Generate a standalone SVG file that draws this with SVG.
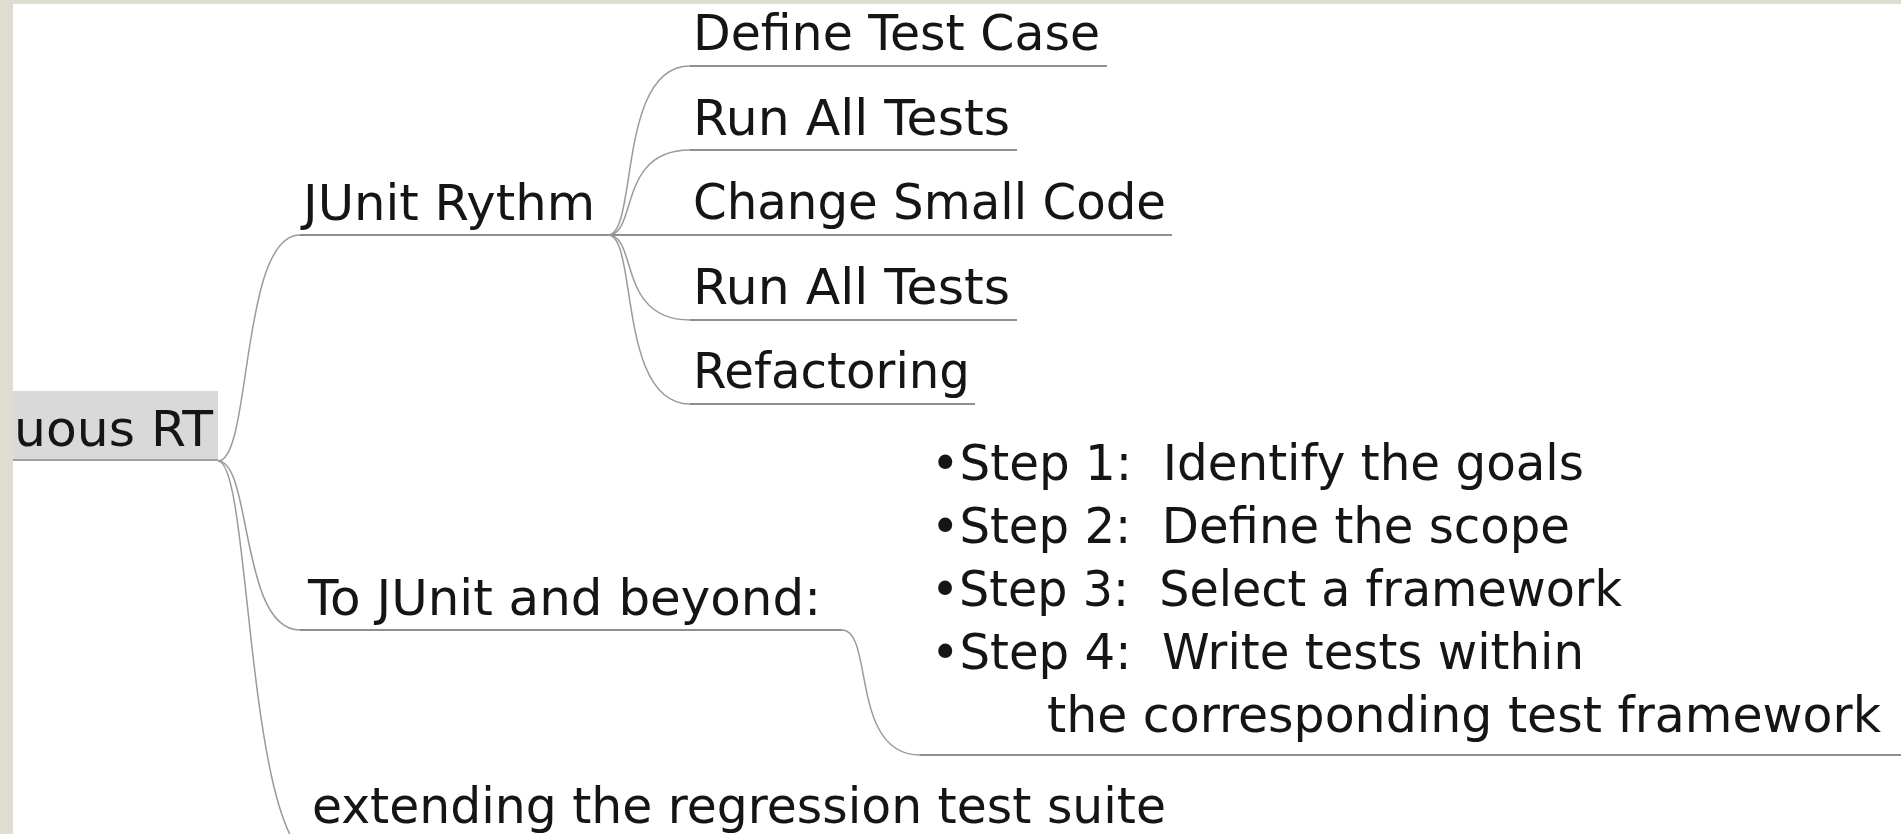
<svg xmlns="http://www.w3.org/2000/svg" width="1901" height="834" viewBox="0 0 1901 834">
<style>
.t{font-family:"DejaVu Sans","Liberation Sans",sans-serif;font-size:49px;fill:#151515;white-space:pre}
.c{fill:none;stroke:#9a9a9a;stroke-width:1.5}
.u{fill:none;stroke:#8e8e8e;stroke-width:2}
</style>
<rect x="0" y="0" width="1901" height="834" fill="#dfddd0"/>
<rect x="13" y="4" width="1888" height="830" fill="#ffffff"/>
<g id="connectors">
<path class="c" d="M218,461 C252,461 240,235 300,235"/>
<path class="u" d="M300,235 H610"/>
<path class="c" d="M218,461 C252,461 240,630 300,630"/>
<path class="u" d="M300,630 H842"/>
<path class="c" d="M218,461 C252,461 245,862 320,862"/>
<path class="c" d="M608,235 C638,235 617,66 690,66"/>
<path class="u" d="M690,66 H1107"/>
<path class="c" d="M608,235 C638,235 617,150 690,150"/>
<path class="u" d="M690,150 H1017"/>
<path class="u" d="M608,235 H1172"/>
<path class="c" d="M608,235 C638,235 617,320 690,320"/>
<path class="u" d="M690,320 H1017"/>
<path class="c" d="M608,235 C638,235 617,404 690,404"/>
<path class="u" d="M690,404 H975"/>
<path class="c" d="M842,630 C874,630 850,755 920,755"/>
<path class="u" d="M920,755 H1901"/>
</g>
<g id="root">
<rect x="13" y="391" width="205" height="69" fill="#d9d9d9"/>
<line x1="13" y1="460" x2="218" y2="460" stroke="#a0a0a0" stroke-width="2"/>
<text class="t" x="14" y="446" textLength="199" lengthAdjust="spacingAndGlyphs">uous RT</text>
</g>
<g id="junit-rythm"><text class="t" x="303" y="220" textLength="292" lengthAdjust="spacingAndGlyphs">JUnit Rythm</text></g>
<g id="define-test-case"><text class="t" x="693" y="50" textLength="407" lengthAdjust="spacingAndGlyphs">Define Test Case</text></g>
<g id="run-all-tests-1"><text class="t" x="693" y="135" textLength="317" lengthAdjust="spacingAndGlyphs">Run All Tests</text></g>
<g id="change-small-code"><text class="t" x="693" y="219" textLength="473" lengthAdjust="spacingAndGlyphs">Change Small Code</text></g>
<g id="run-all-tests-2"><text class="t" x="693" y="304" textLength="317" lengthAdjust="spacingAndGlyphs">Run All Tests</text></g>
<g id="refactoring"><text class="t" x="693" y="388" textLength="277" lengthAdjust="spacingAndGlyphs">Refactoring</text></g>
<g id="to-junit"><text class="t" x="308" y="615" textLength="513" lengthAdjust="spacingAndGlyphs">To JUnit and beyond:</text></g>
<g id="steps">
<text class="t" x="931" y="480" textLength="653" lengthAdjust="spacingAndGlyphs">•Step 1:  Identify the goals</text>
<text class="t" x="931" y="543" textLength="639" lengthAdjust="spacingAndGlyphs">•Step 2:  Define the scope</text>
<text class="t" x="931" y="606" textLength="691" lengthAdjust="spacingAndGlyphs">•Step 3:  Select a framework</text>
<text class="t" x="931" y="669" textLength="653" lengthAdjust="spacingAndGlyphs">•Step 4:  Write tests within</text>
<text class="t" x="1047" y="732" textLength="834" lengthAdjust="spacingAndGlyphs">the corresponding test framework</text>
</g>
<g id="extending"><text class="t" x="312" y="823" textLength="854" lengthAdjust="spacingAndGlyphs">extending the regression test suite</text></g>
</svg>
